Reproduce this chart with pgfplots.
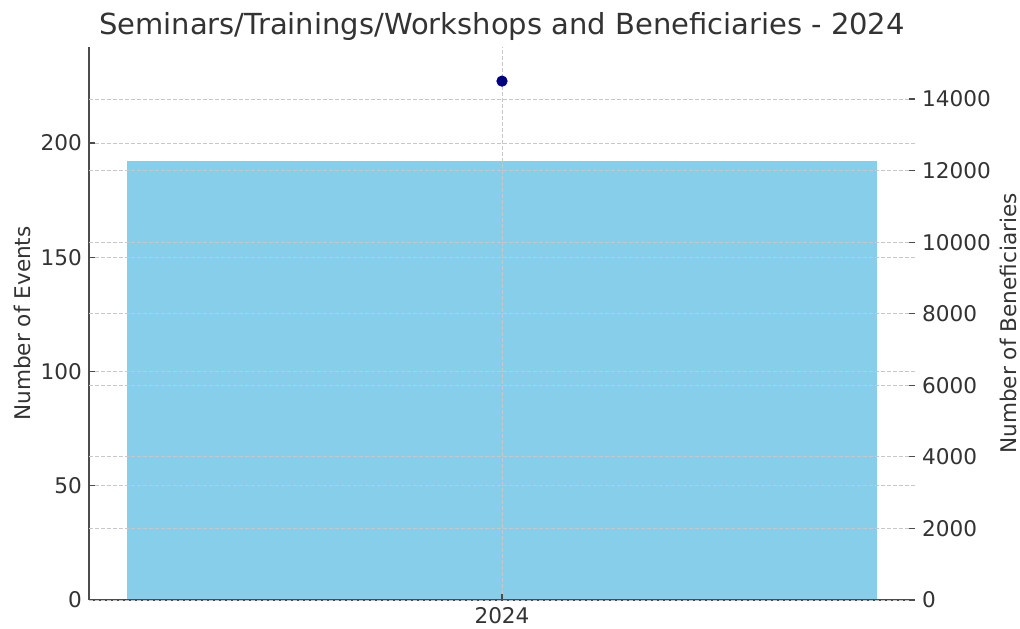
\documentclass[border=0pt]{standalone}
\usepackage{pgfplots}
\pgfplotsset{compat=1.18}
\usepackage{fontspec}
\setmainfont{DejaVu Sans}
\definecolor{barblue}{HTML}{87CEEB}
\definecolor{txt}{HTML}{333333}
\definecolor{gridc}{HTML}{C8C8C8}
\begin{document}
\begin{tikzpicture}
\path[use as bounding box] (-44.5pt,-14pt) rectangle (465.5pt,314pt-14pt);
\pgfplotsset{
  every axis/.append style={
    scale only axis, width=413pt, height=276.5pt,
    /pgf/number format/assume math mode=true,
    tick label style={font=\fontsize{10.8}{13}\selectfont, text=txt},
    tick align=inside, major tick length=3pt,
    tick style={black!70, line width=0.6pt},
    grid style={gridc, dash pattern=on 1.8pt off 1.2pt, line width=0.4pt},
    scaled y ticks=false,
    /pgf/number format/1000 sep={},
  }
}
\begin{axis}[
  at={(0,0)}, anchor=south west,
  axis x line*=bottom, axis y line*=left,
  axis line style={-, black!70, line width=0.7pt},
  axis on top,
  xmin=-0.44, xmax=0.44, ymin=0, ymax=242,
  xtick={0}, xticklabels={2024},
  ytick={0,50,100,150,200},
  ymajorgrids, xmajorgrids,
  ylabel={Number of Events},
  ylabel style={at={(axis description cs:-0.0811,0.5)}, rotate=0, anchor=center, font=\fontsize{10.8}{13}\selectfont, text=txt},
]
\addplot[ybar, bar width=0.8, bar shift=0pt, fill=barblue, draw=none] coordinates {(0,192)};
\end{axis}
\begin{axis}[
  at={(0,0)}, anchor=south west,
  hide x axis,
  axis y line*=right,
  y axis line style={draw=none},
  xmin=-0.44, xmax=0.44, ymin=0, ymax=15453,
  ytick={0,2000,4000,6000,8000,10000,12000,14000},
  ymajorgrids,
  ylabel={Number of Beneficiaries},
  ylabel style={at={(axis description cs:1.1126,0.5)}, rotate=0, anchor=center, font=\fontsize{10.8}{13}\selectfont, text=txt},
]
\addplot[only marks, mark=*, mark size=2.6pt, color={rgb,255:red,0;green,0;blue,128}] coordinates {(0,14500)};
\end{axis}
\node[anchor=base, text=txt, font=\fontsize{14.5}{17}\selectfont] at (206.5pt,282.5pt) {Seminars/Trainings/Workshops and Beneficiaries - 2024};
\end{tikzpicture}
\end{document}
